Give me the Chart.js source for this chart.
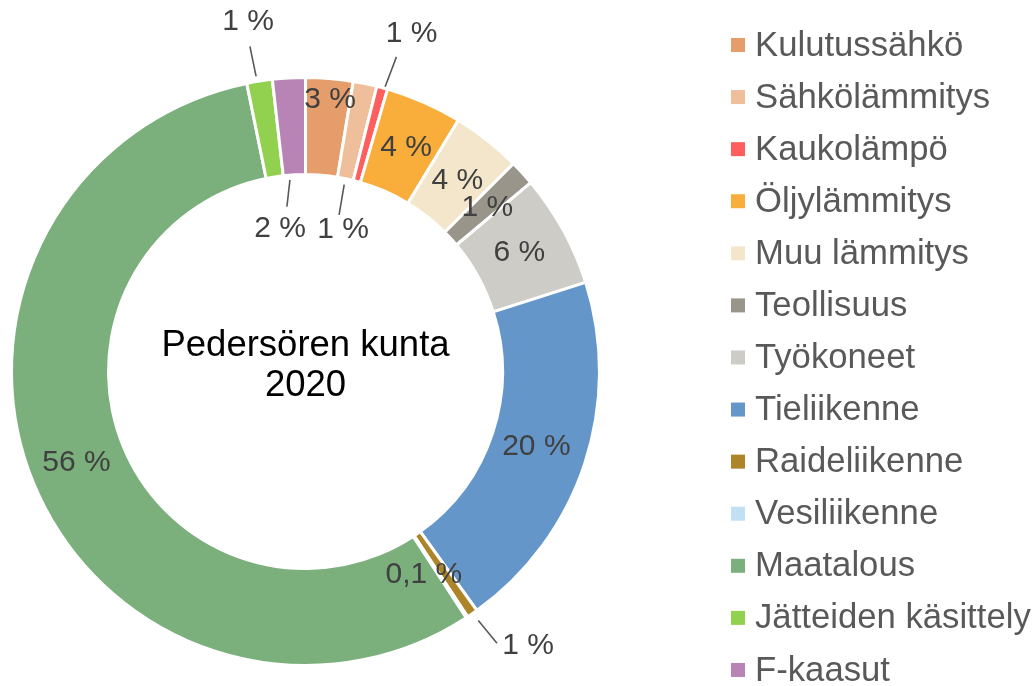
<!DOCTYPE html>
<html>
<head>
<meta charset="utf-8">
<script src="https://cdn.jsdelivr.net/npm/chart.js@4"></script>
<style>
  html, body { margin: 0; padding: 0; background: #fff; }
  #wrap { width: 1034px; height: 686px; position: relative; }
</style>
</head>
<body>
<div id="wrap"><canvas id="c" width="1034" height="686"></canvas></div>
<script>
// ---- data ----
const categories = ["Kulutussähkö", "Sähkölämmitys", "Kaukolämpö", "Öljylämmitys", "Muu lämmitys",
  "Teollisuus", "Työkoneet", "Tieliikenne", "Raideliikenne", "Vesiliikenne", "Maatalous",
  "Jätteiden käsittely", "F-kaasut"];
const shares = [2.6, 1.3, 0.6, 4.2, 3.8, 1.4, 6.2, 20.0, 0.6, 0.1, 56.0, 1.4, 1.8];
const centerTitle = ["Pedersören kunta", "2020"];

// ---- style ----
const colors = ["#E59D6B", "#EFBE9A", "#FF5E5E", "#F9AD3A", "#F3E6CB", "#9A958B", "#CDCCC6",
  "#6596C9", "#AD8428", "#C2E0F3", "#7BAF7C", "#92D050", "#B883B5"];
// label placement: r = fraction of outer radius, da = degrees from slice middle
const labelPlace = [
  {r: 0.929, da: 0.5}, {r: 0.50, da: 3.1}, {r: 1.205, da: 2.3}, {r: 0.835, da: 0.4},
  {r: 0.83, da: 0.3}, {r: 0.832, da: 0.5}, {r: 0.832, da: -0.2}, {r: 0.826, da: -0.3},
  {r: 1.201, da: -4.5}, {r: 0.80, da: 3.1}, {r: 0.838, da: 0.7}, {r: 1.207, da: -0.3},
  {r: 0.493, da: -6.9}
];
// leader lines: [r1, r2, da1, da2]
const leaders = [null, [0.649, 0.545, 0, 0.4], [1.114, 1.006, 1.0, 0.5], null, null, null, null, null,
  [1.031, 1.131, -0.2, -0.6], null, null, [1.122, 1.018, -0.7, -0.5], [0.654, 0.564, -1.4, -3.2]];

const FONT = "'Liberation Sans', Arial, sans-serif";

function fmt(v) {
  return (v < 0.5 ? v.toFixed(1).replace('.', ',') : Math.round(v)) + ' %';
}

const labelPlugin = {
  id: 'labels',
  afterDatasetsDraw(chart) {
    const ctx = chart.ctx;
    const meta = chart.getDatasetMeta(0);
    ctx.save();
    meta.data.forEach((arc, i) => {
      const p = arc.getProps(['x', 'y', 'startAngle', 'endAngle', 'outerRadius'], true);
      const mid = (p.startAngle + p.endAngle) / 2;
      const R = p.outerRadius;
      const ld = leaders[i];
      if (ld) {
        const a1 = mid + ld[2] * Math.PI / 180, a2 = mid + ld[3] * Math.PI / 180;
        ctx.strokeStyle = '#595959';
        ctx.lineWidth = 1.6;
        ctx.beginPath();
        ctx.moveTo(p.x + Math.cos(a1) * R * ld[0], p.y + Math.sin(a1) * R * ld[0]);
        ctx.lineTo(p.x + Math.cos(a2) * R * ld[1], p.y + Math.sin(a2) * R * ld[1]);
        ctx.stroke();
      }
      const lp = labelPlace[i];
      const a = mid + lp.da * Math.PI / 180;
      ctx.fillStyle = '#404040';
      ctx.font = '30px ' + FONT;
      ctx.textAlign = 'center';
      ctx.textBaseline = 'middle';
      ctx.fillText(fmt(shares[i]), p.x + Math.cos(a) * R * lp.r, p.y + Math.sin(a) * R * lp.r);
    });
    // centre title
    const a0 = meta.data[0];
    ctx.fillStyle = '#000000';
    ctx.font = '36.5px ' + FONT;
    ctx.fillText(centerTitle[0], a0.x, a0.y - 26);
    ctx.fillText(centerTitle[1], a0.x, a0.y + 14);
    // legend
    ctx.textAlign = 'left';
    ctx.font = '34.7px ' + FONT;
    categories.forEach((name, i) => {
      const cy = 45 + i * 52.08;
      ctx.fillStyle = colors[i];
      ctx.fillRect(731, cy - 7, 14, 14);
      ctx.fillStyle = '#595959';
      ctx.fillText(name, 755, cy + 1);
    });
    ctx.restore();
  }
};

new Chart(document.getElementById('c'), {
  type: 'doughnut',
  data: {
    labels: categories,
    datasets: [{
      data: shares,
      backgroundColor: colors,
      borderColor: '#ffffff',
      borderWidth: 3
    }]
  },
  options: {
    responsive: false,
    animation: false,
    cutout: '67%',
    layout: { padding: { left: 10, right: 433, top: 76, bottom: 19 } },
    plugins: { legend: { display: false }, tooltip: { enabled: false } }
  },
  plugins: [labelPlugin]
});
</script>
</body>
</html>
